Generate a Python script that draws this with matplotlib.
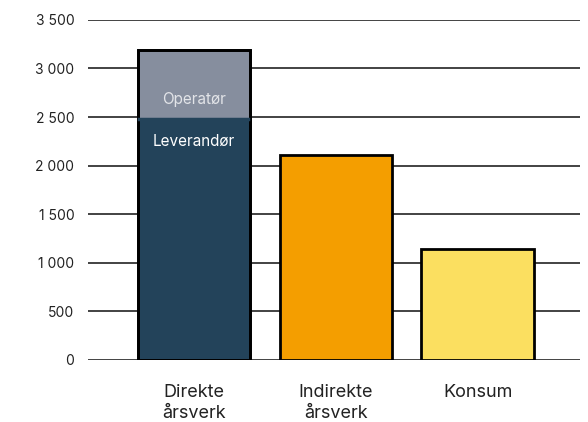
import matplotlib.pyplot as plt
import numpy as np

# data
categories = ["Direkte\nårsverk", "Indirekte\nårsverk", "Konsum"]
leverandor = [2480, 0, 0]
operator = [710, 0, 0]
single_values = [0, 2110, 1145]

plt.rcParams['font.family'] = ['Inter', 'DejaVu Sans']

fig = plt.figure(figsize=(5.88, 4.22), dpi=100)
ax = fig.add_axes([0.15, 0.147, 0.836, 0.806])

x = np.arange(len(categories))
width = 0.79

# grid lines behind the bars
ax.set_axisbelow(True)
ax.yaxis.grid(True, color='#222222', lw=1.2)

# stacked first bar
ax.bar(x[0], leverandor[0], width, color='#23435A', edgecolor='black', lw=2)
ax.bar(x[0], operator[0], width, bottom=leverandor[0], color='#868E9E',
       edgecolor='black', lw=2)
# plain bars
ax.bar(x[1], single_values[1], width, color='#F49E00', edgecolor='black', lw=2)
ax.bar(x[2], single_values[2], width, color='#FBDF60', edgecolor='black', lw=2)

# redraw outline of stacked bar as one box
total = leverandor[0] + operator[0]
ax.bar(x[0], total, width, fill=False, edgecolor='black', lw=2)
ax.plot([x[0] - width / 2 + 0.01, x[0] + width / 2 - 0.01],
        [leverandor[0], leverandor[0]], color='#23435A', lw=2.5)

ax.text(x[0], 2680, "Operatør",
        ha='center', va='center', color='#E2E4E8', fontsize=11)
ax.text(x[0], 2245, "Leverandør",
        ha='center', va='center', color='white', fontsize=11)

ax.set_ylim(0, 3500)
ax.set_xlim(-0.743, 2.72)
ax.set_yticks(np.arange(0, 3501, 500))
ax.set_yticklabels([f"{v:,}".replace(",", " ") for v in range(0, 3501, 500)],
                   fontsize=10, color='#222222')
ax.set_xticks(x)
ax.set_xticklabels(categories, fontsize=13, color='#222222',
                   linespacing=1.35, va='top')
ax.tick_params(axis='both', length=0)
ax.tick_params(axis='x', pad=17)
ax.tick_params(axis='y', pad=10)
for s in ax.spines.values():
    s.set_visible(False)

fig.savefig("out.png", dpi=100)
